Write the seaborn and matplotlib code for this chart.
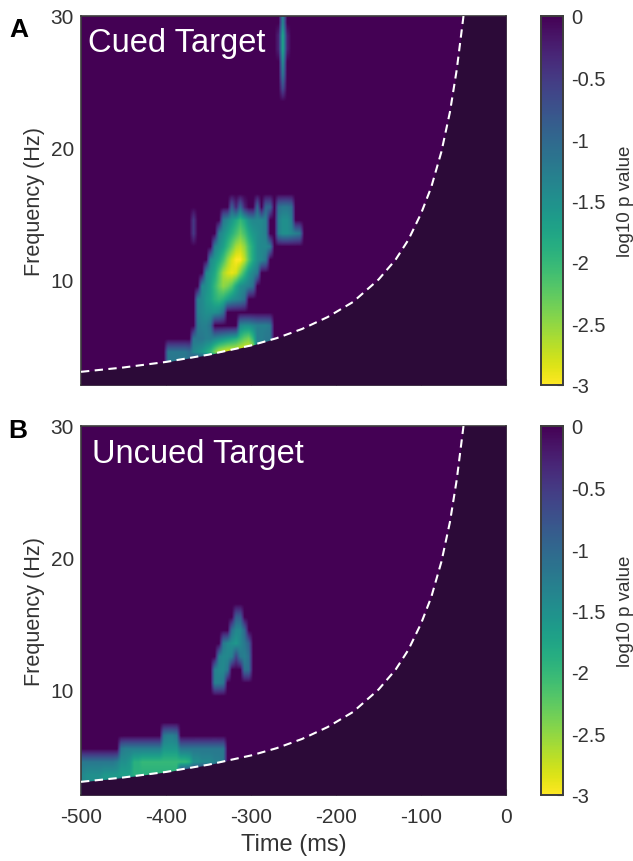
import numpy as np
import matplotlib
matplotlib.use("Agg")
import matplotlib.pyplot as plt
import seaborn as sns

sns.set_theme(style="white")
plt.rcParams['font.family'] = ['Liberation Sans', 'DejaVu Sans']

# grid: 5 ms columns from -500 to 0 ms, 1 Hz rows from 30 down to 2 Hz
t_step = 5
time_edges = np.arange(-500, 1, t_step)
freq_centres = [30 - i - 0.5 for i in range(28)]

# (row centre Hz, first column, log10 p values)
cued_segments = [
    (29.5, 47, [-1.4]),
    (28.5, 46, [-0.3, -1.8, -0.3]),
    (27.5, 46, [-0.3, -1.8, -0.3]),
    (26.5, 47, [-1.5]),
    (25.5, 47, [-1.2]),
    (24.5, 47, [-0.7]),
    (15.5, 35, [-0.9, -0.3, -1.0, -0.3, 0, 0, -1.0, 0, -1.0, -1.0, 0, -1.1, -1.2, -1.2, -1.1]),
    (14.5, 26, [-0.5]),
    (14.5, 33, [-1.2, -1.4, -1.6, -1.8, -2.0, -1.8, -1.5, -1.4, -1.4, -1.4, -1.3, 0, 0, -1.3, -1.5, -1.5, -1.3]),
    (13.5, 26, [-0.5]),
    (13.5, 32, [-1.3, -1.5, -1.7, -1.9, -2.1, -2.3, -2.1, -1.8, -1.6, -1.5, -1.4, -1.3, 0, 0, -1.3, -1.5, -1.5, -1.4, -1.3, -1.2]),
    (12.5, 31, [-1.3, -1.5, -1.7, -2.0, -2.3, -2.6, -2.7, -2.5, -2.1, -1.8, -1.5, -1.4, -1.4, -1.3]),
    (11.5, 30, [-1.4, -1.6, -1.8, -2.1, -2.5, -2.8, -3.0, -3.0, -2.7, -2.2, -1.8, -1.5, -1.4, -1.2]),
    (10.5, 29, [-1.4, -1.6, -1.8, -2.2, -2.6, -2.8, -2.9, -2.8, -2.4, -2.0, -1.6, -1.4, -1.2]),
    (9.5, 28, [-1.4, -1.5, -1.7, -2.0, -2.3, -2.5, -2.4, -2.2, -1.8, -1.5, -1.4, -1.3, -1.1]),
    (8.5, 27, [-1.3, -1.4, -1.6, -1.7, -1.9, -2.0, -1.9, -1.7, -1.5, -1.4, -1.3, -1.1]),
    (7.5, 27, [-1.3, -1.4, -1.5, -1.5, -1.5, -1.4, -1.1]),
    (6.5, 27, [-1.2, -1.3, -1.3, -1.1]),
    (6.5, 37, [-1.4, -1.5, -1.5, -1.4, -1.3, -1.3, -1.3, -1.2]),
    (5.5, 26, [-1.2, -1.2, -1.2, -1.3, -1.3, -1.4, -1.5, -1.6, -1.7, -1.8, -1.9, -2.1, -2.3, -2.4, -2.0, -1.3, -1.3, -1.2, -1.2]),
    (4.5, 20, [-1.2, -1.2, -1.2, -1.2, -1.2, -1.1]),
    (4.5, 26, [-1.4, -1.5, -1.6, -1.8, -2.0, -2.4, -2.7, -2.8, -2.9, -2.9, -2.9, -3.0, -3.0, -3.0, -2.9, -1.2, -1.2, -1.2, -1.2]),
    (3.5, 20, [-1.2, -1.2, -1.2, -1.2, -1.2, -1.1]),
]
uncued_segments = [
    (15.5, 36, [-0.9, -0.9]),
    (14.5, 35, [-1.1, -1.4, -1.4, -1.0]),
    (13.5, 33, [-1.2, -1.4, -1.5, -1.6, -1.4, -1.2, -0.9]),
    (12.5, 32, [-1.3, -1.4, -1.4, -1.3, -0.6, -1.2, -1.3, -1.1]),
    (11.5, 31, [-1.3, -1.4, -1.4, -1.2, 0, 0, 0, -1.1, -1.1]),
    (10.5, 31, [-1.3, -1.3, -1.2]),
    (6.5, 19, [-1.2, -1.3, -1.3, -1.2]),
    (5.5, 9, [-1.2, -1.3, -1.3, -1.3, -1.3, -1.3, -1.3, -1.3, -1.3, -1.3, -1.6, -1.6, -1.6, -1.6, -1.2, -1.2, -1.2, -1.2, -1.2, -1.2, -1.2, -1.2, -1.2, -1.2, -1.2]),
    (4.5, 0, [-1.2, -1.2, -1.2, -1.2, -1.2, -1.2, -1.2, -1.2, -1.3, -1.5, -1.5, -1.6, -1.9, -1.9, -2.0, -2.0, -2.0, -2.0, -2.0, -2.0, -2.0, -2.0, -2.0, -2.0, -2.0, -1.9, -1.5, -1.5, -1.4, -1.4, -1.4, -1.3, -1.3, -1.2]),
    (3.5, 0, [-1.4, -1.5, -1.5, -1.5, -1.5, -1.6, -1.6, -1.6, -1.6, -1.7, -1.7, -1.7, -1.9, -1.9, -1.9, -1.9, -1.9, -1.9, -1.9, -1.9, -1.9, -1.9, -1.9]),
    (2.5, 0, [-1.4, -1.5, -1.5, -1.5, -1.5, -1.6, -1.6, -1.6, -1.6]),
]

# cone of influence
coi_time = [-500, -450, -400, -350, -300, -270, -240, -210, -180, -150, -130, -115, -100, -88, -76, -66, -58, -50]
coi_freq = [3.0, 3.33, 3.75, 4.3, 5.0, 5.55, 6.25, 7.15, 8.3, 10.0, 11.5, 13.0, 15.0, 17.0, 19.7, 22.7, 25.9, 30.0]

xticks = [-500, -400, -300, -200, -100, 0]
yticks = [10, 20, 30]
cbar_ticks = [0, -0.5, -1, -1.5, -2, -2.5, -3]
titles = ["Cued Target", "Uncued Target"]
letters = ["A", "B"]

W, H = 633, 862
EDGE = "#3c3c3c"
TEXT = "#333333"
DARK = "#2c0a38"


def px_axes(x0, y0, x1, y1):
    return fig.add_axes([x0 / W, 1 - y1 / H, (x1 - x0) / W, (y1 - y0) / H])


def to_x(t):
    return (np.asarray(t, float) + 500) / t_step


def to_y(f):
    return 30 - np.asarray(f, float)


def build(segments):
    grid = np.zeros((len(freq_centres), len(time_edges) - 1))
    for fc, start, vals in segments:
        grid[freq_centres.index(fc), start:start + len(vals)] = vals
    return grid


fig = plt.figure(figsize=(W / 100, H / 100), dpi=100, facecolor="white")
panels = [(cued_segments, 17, 386, (88, 52), (9, 37)),
          (uncued_segments, 427, 796, (92, 463), (8, 438))]

for i, (segs, top, bottom, tpos, lpos) in enumerate(panels):
    ax = px_axes(81, top, 506, bottom)
    cax = px_axes(541, top, 563, bottom)
    grid = build(segs)
    sns.heatmap(grid, ax=ax, cbar_ax=cax, cmap="viridis_r", vmin=-3, vmax=0,
                xticklabels=False, yticklabels=False)
    ny, nx = grid.shape
    ax.imshow(grid, extent=(0, nx, ny, 0), cmap="viridis_r", vmin=-3, vmax=0,
              interpolation="bilinear", aspect="auto", zorder=2)
    ax.set_xlim(0, nx)
    ax.set_ylim(ny, 0)

    fx = to_x(coi_time + [0])
    fy = to_y(coi_freq + [30])
    ax.fill_between(fx, fy, ny, color=DARK, lw=0, zorder=3)
    ax.plot(to_x(coi_time), to_y(coi_freq), color="white", lw=1.5,
            dashes=(4, 2.6), zorder=4)

    ax.set_xticks(to_x(xticks))
    ax.set_yticks(to_y(yticks))
    ax.set_yticklabels([str(v) for v in yticks])
    if i == 1:
        ax.set_xticklabels([str(v) for v in xticks])
        ax.set_xlabel("Time (ms)", fontsize=17, color=TEXT, labelpad=5)
    else:
        ax.set_xticklabels([])
    ax.set_ylabel("Frequency (Hz)", fontsize=15.6, color=TEXT, labelpad=4)
    ax.tick_params(axis="both", direction="in", length=4, width=0.8, color=EDGE,
                   labelsize=15, labelcolor=TEXT, pad=5, bottom=True, left=True)
    ax.tick_params(axis="x", pad=9)
    for s in ax.spines.values():
        s.set_visible(True)
        s.set_color(EDGE)
        s.set_linewidth(1.2)

    cax.set_yticks(cbar_ticks)
    cax.set_yticklabels([f"{v:g}" for v in cbar_ticks])
    cax.tick_params(axis="y", direction="in", length=4, width=0.8, color=EDGE,
                    labelsize=14.5, labelcolor=TEXT, pad=6, right=True, left=False)
    cax.set_ylabel("log10 p value", fontsize=13.5, color=TEXT)
    cax.yaxis.set_label_position("right")
    cax.yaxis.set_label_coords((617 - 541) / 22, 0.5)
    for s in cax.spines.values():
        s.set_visible(True)
        s.set_color(EDGE)
        s.set_linewidth(1.2)

    fig.text(tpos[0] / W, 1 - tpos[1] / H, titles[i], color="white", fontsize=23.5,
             ha="left", va="baseline")
    fig.text(lpos[0] / W, 1 - lpos[1] / H, letters[i], color="black", fontsize=19,
             fontweight="bold", ha="left", va="baseline")

fig.savefig("out.png", dpi=100, facecolor="white")
